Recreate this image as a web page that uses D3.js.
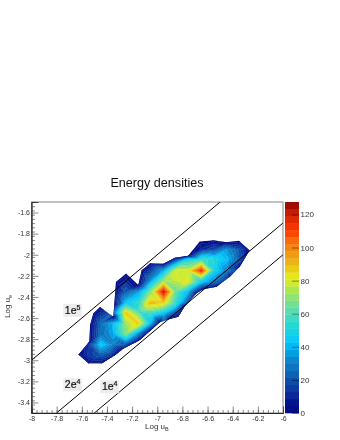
<!DOCTYPE html>
<html><head><meta charset="utf-8">
<script src="https://cdn.jsdelivr.net/npm/d3@7"></script>
<style>html,body{margin:0;background:#fff}svg{display:block;font-family:"Liberation Sans",sans-serif}</style>
</head><body><svg id="c" width="340" height="440"></svg>
<script>
const title = "Energy densities";
// hull of the measured region
const edgeX = [-7.627,-7.548,-7.442,-7.336,-7.27,-7.138,-6.979,-6.9,-6.833,-6.78,-6.688,-6.635,-6.529,-6.423,-6.344,-6.265,-6.349,-6.45,-6.556,-6.661,-6.754,-6.86,-6.952,-7.058,-7.124,-7.151,-7.249,-7.328,-7.349,-7.455,-7.508,-7.534,-7.54];
const edgeY = [-2.949,-3.031,-3.031,-2.952,-2.892,-2.807,-2.64,-2.609,-2.587,-2.486,-2.366,-2.328,-2.303,-2.209,-2.114,-1.957,-1.868,-1.881,-1.862,-1.875,-2.01,-2.029,-2.086,-2.083,-2.146,-2.287,-2.177,-2.256,-2.587,-2.495,-2.555,-2.665,-2.823];
const edgeValue = 2;
// inner cells: x, y, value
const cellX = [-6.65,-6.55,-6.45,-6.35, -6.85,-6.76,-6.65,-6.54,-6.45,-6.35, -6.95,-6.85,-6.75,-6.65,-6.55,-6.45,-6.35, -7.06,-6.95,-6.84,-6.76,-6.65,-6.54,-6.45, -7.25,-7.15,-7.05,-6.95,-6.85,-6.75, -7.25,-7.14,-7.06,-6.95,-6.84,-6.75, -7.35,-7.25,-7.14,-7.05,-6.95,-6.85, -7.45,-7.35,-7.26,-7.15,-7.05,-6.95, -7.45,-7.35,-7.25,-7.15, -7.55,-7.45,-7.35,-7.25, -7.55,-7.45,-7.35];
const cellY = [-1.95,-1.95,-1.95,-1.95, -2.05,-2.04,-2.05,-2.04,-2.05,-2.05, -2.15,-2.15,-2.15,-2.15,-2.15,-2.15,-2.15, -2.24,-2.25,-2.24,-2.26,-2.25,-2.26,-2.25, -2.35,-2.35,-2.35,-2.35,-2.35,-2.35, -2.45,-2.45,-2.46,-2.45,-2.46,-2.45, -2.55,-2.55,-2.54,-2.55,-2.55,-2.55, -2.65,-2.65,-2.66,-2.65,-2.65,-2.65, -2.75,-2.75,-2.75,-2.75, -2.85,-2.85,-2.85,-2.85, -2.95,-2.95,-2.95];
const cellV = [10,18,34,20, 20,45,60,50,42,22, 38,80,80,115,50,30,12, 30,72,78,82,48,25,10, 22,35,70,122,62,38, 42,55,90,88,50,16, 22,88,58,58,45,18, 25,40,68,88,40,16, 26,38,68,30, 12,45,30,20, 14,22,12];
const xTicks = [-8,-7.8,-7.6,-7.4,-7.2,-7,-6.8,-6.6,-6.4,-6.2,-6];
const yTicks = [-1.6,-1.8,-2,-2.2,-2.4,-2.6,-2.8,-3,-3.2,-3.4];
const zTicks = [0,20,40,60,80,100,120];
const ratioLog = [5,Math.log10(2e4),4];
const ratioLabel = ["1e","2e","1e"];
const ratioExp = ["5","4","4"];
const labelX = [-7.735,-7.735,-7.44];
const labelY = [-2.56,-3.265,-3.285];
const bandCount = 30, zMax = 127.5;
const paletteStops = [0,12,22,32,42,52,62,72,82,92,102,110,120,127.5];
const paletteColors = ["#00007f","#0a2c9c","#0a5cb0","#0a86cc","#00c4ff","#1fd8d8","#5adcae","#9ae662","#e8ec18","#ecae14","#f67a10","#ff3c00","#d02000","#8c0000"];

const L=31.5,R=283,T=202,B=413, BL=285, BR=299;
const x=d3.scaleLinear().domain([-8,-6]).range([L,R]);
const y=d3.scaleLinear().domain([-3.5,-1.5]).range([B,T]);
const z=d3.scaleLinear().domain([0,zMax]).range([B,T]);
const ramp=d3.scaleLinear().domain(paletteStops).range(paletteColors).interpolate(d3.interpolateRgb);
const levels=d3.range(bandCount+1).map(i=>i*zMax/bandCount);
const col=i=>ramp((levels[i]+levels[i+1])/2);

const svg=d3.select("#c");
const hull=edgeX.map((d,i)=>[x(d),y(edgeY[i])]);
// outline vertices, long sides split so triangles stay close to it
const rim=[];
hull.forEach((a,i)=>{
  const b=hull[(i+1)%hull.length], n=Math.max(1,Math.round(Math.hypot(b[0]-a[0],b[1]-a[1])/14));
  for(let k=0;k<n;k++) rim.push([a[0]+(b[0]-a[0])*k/n,a[1]+(b[1]-a[1])*k/n,edgeValue]);
});
const nodes=[...rim,...cellX.map((d,i)=>[x(d),y(cellY[i]),cellV[i]])];
const del=d3.Delaunay.from(nodes,d=>d[0],d=>d[1]);

function clip(poly,level,keepAbove){
  const out=[];
  for(let i=0;i<poly.length;i++){
    const a=poly[i],b=poly[(i+1)%poly.length];
    const ia=keepAbove?a[2]>=level:a[2]<=level, ib=keepAbove?b[2]>=level:b[2]<=level;
    if(ia) out.push(a);
    if(ia!==ib){const t=(level-a[2])/(b[2]-a[2]);out.push([a[0]+t*(b[0]-a[0]),a[1]+t*(b[1]-a[1]),level]);}
  }
  return out;
}
const pieces=[];
for(let t=0;t<del.triangles.length;t+=3){
  const tri=[0,1,2].map(k=>nodes[del.triangles[t+k]]);
  for(let b=0;b<bandCount;b++){
    let p=clip(tri,levels[b],true); if(p.length<3) continue;
    p=clip(p,levels[b+1],false); if(p.length<3) continue;
    pieces.push({p,b});
  }
}
pieces.sort((a,b)=>a.b-b.b);
const root=svg.append("g").attr("filter","url(#soft)");
const defs=svg.append("defs");
defs.append("filter").attr("id","soft").attr("filterUnits","userSpaceOnUse").attr("x",0).attr("y",0).attr("width",340).attr("height",440)
  .append("feGaussianBlur").attr("stdDeviation",0.35);
defs.append("clipPath").attr("id","outline").append("path").attr("d","M"+hull.join("L")+"Z");
root.append("g").attr("clip-path","url(#outline)").selectAll("path").data(pieces).join("path")
  .attr("d",d=>"M"+d.p.map(q=>q[0]+","+q[1]).join("L")+"Z")
  .attr("fill",d=>col(d.b)).attr("stroke",d=>col(d.b)).attr("stroke-width",0.4);

// ratio lines
defs.append("clipPath").attr("id","fr").append("rect").attr("x",L).attr("y",T).attr("width",R-L).attr("height",B-T);
root.append("g").attr("clip-path","url(#fr)").selectAll("line").data(ratioLog).join("line")
  .attr("x1",x(-8)).attr("y1",d=>y(-8+d)).attr("x2",x(-6)).attr("y2",d=>y(-6+d))
  .attr("stroke","#000").attr("stroke-width",1);

// frame
root.append("rect").attr("x",L).attr("y",T).attr("width",R-L).attr("height",B-T).attr("fill","none").attr("stroke","#666").attr("stroke-width",0.8);

// axes
function styleAxis(g){g.select(".domain").attr("stroke","#222").attr("stroke-width",0.8);g.selectAll("line").attr("stroke","#555").attr("stroke-width",0.7);g.selectAll("text").attr("fill","#333").attr("font-size",7).attr("font-family","Liberation Sans");}
const xMinor=d3.range(0,51).map(i=>-8+i*0.04), yMinor=d3.range(0,51).map(i=>-3.5+i*0.04);
root.append("g").attr("transform",`translate(0,${B})`).call(d3.axisBottom(x).tickValues(xMinor).tickSize(-3).tickFormat("")).call(styleAxis);
root.append("g").attr("transform",`translate(0,${B})`).call(d3.axisBottom(x).tickValues(xTicks).tickSize(-6.5).tickPadding(3).tickFormat(d=>String(d))).call(styleAxis);
root.append("g").attr("transform",`translate(${L},0)`).call(d3.axisLeft(y).tickValues(yMinor).tickSize(-3.5).tickFormat("")).call(styleAxis);
root.append("g").attr("transform",`translate(${L},0)`).call(d3.axisLeft(y).tickValues(yTicks).tickSize(-7).tickPadding(1.5).tickFormat(d=>String(d))).call(styleAxis);

// titles
root.append("text").attr("x",157).attr("y",187).attr("text-anchor","middle").attr("font-size",12.6).attr("fill","#111").text(title);
const xt=root.append("text").attr("x",145).attr("y",429).attr("font-size",8).attr("fill","#333");
xt.append("tspan").text("Log u"); xt.append("tspan").attr("dy",2).attr("font-size",5.5).text("B");
const yt=root.append("text").attr("transform","translate(9.5,318) rotate(-90)").attr("font-size",8).attr("fill","#333");
yt.append("tspan").text("Log u"); yt.append("tspan").attr("dy",2).attr("font-size",5.5).text("e");

// ratio labels
const lab=root.append("g").selectAll("g").data(ratioLabel).join("g").attr("transform",(d,i)=>`translate(${x(labelX[i])},${y(labelY[i])})`);
lab.append("rect").attr("x",-1.5).attr("y",-10).attr("width",18.5).attr("height",13).attr("fill","#ececec");
const lt=lab.append("text").attr("font-size",10.5).attr("fill","#111").attr("stroke","#111").attr("stroke-width",0.2);
lt.append("tspan").text(d=>d);
lt.append("tspan").attr("dy",-4).attr("font-size",7).text((d,i)=>ratioExp[i]);

// colour bar
root.append("g").selectAll("rect").data(d3.range(bandCount)).join("rect")
  .attr("x",BL).attr("width",BR-BL).attr("y",i=>z(levels[i+1])).attr("height",i=>z(levels[i])-z(levels[i+1])+0.3).attr("fill",col);
const zg=root.append("g").attr("transform",`translate(${BR},0)`).call(d3.axisRight(z).tickValues(zTicks).tickSize(-7).tickPadding(1.5));
zg.select(".domain").remove();
zg.selectAll("line").attr("stroke","#000").attr("stroke-opacity",0.5).attr("stroke-width",0.8);
zg.selectAll("text").attr("fill","#333").attr("font-size",8).attr("font-family","Liberation Sans");
</script></body></html>
